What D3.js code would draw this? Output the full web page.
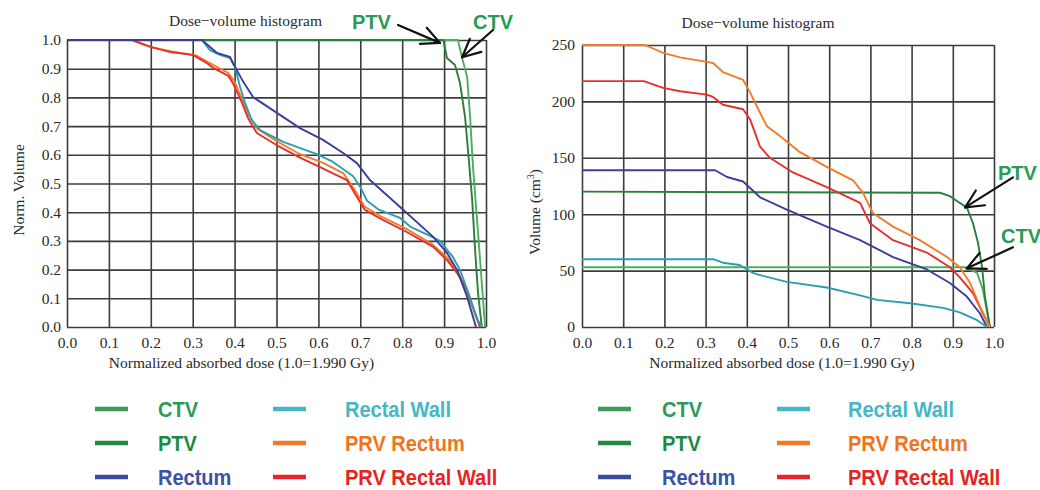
<!DOCTYPE html>
<html>
<head>
<meta charset="utf-8">
<script src="https://cdn.jsdelivr.net/npm/d3@7"></script>
<style>
  body { margin: 0; background: #fff; }
  svg { display: block; }
  .tick text { font-family: "Liberation Serif", "Times New Roman", serif; font-size: 15.5px; fill: #2a2a2a; }
  .serif { font-family: "Liberation Serif", "Times New Roman", serif; fill: #2a2a2a; }
  .lg { font-family: "Liberation Sans", Arial, sans-serif; font-weight: bold; }
</style>
</head>
<body>
<svg id="chart" width="1040" height="490"></svg>
<script>
// ---------- data ----------
const xTickValues = [0, 0.1, 0.2, 0.3, 0.4, 0.5, 0.6, 0.7, 0.8, 0.9, 1.0];
const xTickLabels = ["0.0","0.1","0.2","0.3","0.4","0.5","0.6","0.7","0.8","0.9","1.0"];
const leftYTickValues = [0, 0.1, 0.2, 0.3, 0.4, 0.5, 0.6, 0.7, 0.8, 0.9, 1.0];
const leftYTickLabels = ["0.0","0.1","0.2","0.3","0.4","0.5","0.6","0.7","0.8","0.9","1.0"];
const rightYTickValues = [0, 50, 100, 150, 200, 250];

const seriesNames = ["CTV", "PTV", "Rectum", "Rectal Wall", "PRV Rectum", "PRV Rectal Wall"];
const lineColors = ["#4caf5c", "#2a7f3c", "#3b3f98", "#2a9fb4", "#f07c2a", "#e6302c"];
const legendLineColors = ["#3a9a5a", "#1f8a40", "#3c4aa0", "#45b7c6", "#f07a2a", "#e8252a"];
const legendTextColors = ["#2e9a5a", "#1c8a3e", "#3a52a6", "#45b7c6", "#f07420", "#e52424"];

// Left panel: normalized volume  [dose, volume fraction]
const leftCTV = [[0,1],[0.933,1],[0.943,0.937],[0.955,0.871],[0.962,0.732],[0.969,0.557],[0.981,0.328],[0.99,0.153],[0.998,0]];
const leftPTV = [[0,1],[0.898,1],[0.907,0.937],[0.926,0.913],[0.938,0.85],[0.95,0.732],[0.957,0.617],[0.967,0.443],[0.974,0.268],[0.981,0.118],[0.99,0]];
const leftRectum = [[0,1],[0.322,1],[0.358,0.955],[0.389,0.941],[0.396,0.92],[0.418,0.861],[0.444,0.801],[0.501,0.746],[0.556,0.693],[0.611,0.652],[0.659,0.606],[0.692,0.571],[0.723,0.512],[0.795,0.418],[0.874,0.314],[0.907,0.258],[0.931,0.199],[0.955,0.105],[0.976,0]];
const leftRectalWall = [[0,1],[0.322,1],[0.341,0.965],[0.365,0.948],[0.389,0.937],[0.401,0.906],[0.413,0.836],[0.425,0.78],[0.441,0.721],[0.461,0.686],[0.516,0.645],[0.596,0.602],[0.635,0.575],[0.683,0.525],[0.7,0.488],[0.716,0.44],[0.745,0.408],[0.795,0.38],[0.819,0.35],[0.87,0.315],[0.89,0.3],[0.921,0.244],[0.938,0.199],[0.96,0.11],[0.978,0.03],[0.99,0]];
const leftPRVRectum = [[0,1],[0.155,1],[0.2,0.975],[0.25,0.96],[0.31,0.945],[0.34,0.92],[0.385,0.885],[0.4,0.855],[0.42,0.785],[0.435,0.735],[0.455,0.69],[0.5,0.648],[0.556,0.602],[0.61,0.573],[0.66,0.535],[0.69,0.47],[0.71,0.42],[0.75,0.385],[0.81,0.342],[0.87,0.29],[0.905,0.245],[0.93,0.2],[0.95,0.14],[0.97,0.06],[0.985,0]];
const leftPRVRectalWall = [[0,1],[0.155,1],[0.198,0.977],[0.246,0.958],[0.3,0.948],[0.33,0.923],[0.35,0.902],[0.385,0.875],[0.396,0.85],[0.418,0.78],[0.432,0.728],[0.453,0.676],[0.5,0.634],[0.556,0.59],[0.604,0.557],[0.668,0.512],[0.692,0.453],[0.711,0.408],[0.754,0.373],[0.811,0.331],[0.874,0.279],[0.907,0.233],[0.931,0.188],[0.955,0.129],[0.974,0.049],[0.986,0]];

// Right panel: absolute volume (cm³)  [dose, volume]
const rightCTV = [[0,53],[0.93,53],[0.959,48],[0.973,33],[0.99,0]];
const rightPTV = [[0,120],[0.869,119],[0.893,116],[0.917,110],[0.934,106],[0.949,92],[0.961,75],[0.971,53],[0.978,27],[0.99,0]];
const rightRectum = [[0,139],[0.323,139],[0.352,133],[0.391,129],[0.432,115],[0.497,104],[0.594,89],[0.675,77],[0.755,62],[0.837,51],[0.893,39],[0.934,27],[0.966,12],[0.983,0]];
const rightRectalWall = [[0,60],[0.32,60],[0.342,57],[0.383,55],[0.415,48],[0.432,46],[0.497,40],[0.594,35],[0.675,28],[0.716,24],[0.796,21],[0.876,17],[0.917,13],[0.959,6],[0.983,0]];
const rightPRVRectum = [[0,250],[0.153,250],[0.197,243],[0.238,239],[0.303,235],[0.318,234],[0.342,226],[0.391,219],[0.408,208],[0.425,195],[0.449,178],[0.481,169],[0.529,155],[0.594,142],[0.658,130],[0.682,119],[0.706,101],[0.755,89],[0.82,77],[0.886,62],[0.917,53],[0.942,39],[0.966,18],[0.99,0]];
const rightPRVRectalWall = [[0,218],[0.15,218],[0.197,212],[0.238,209],[0.303,206],[0.318,204],[0.342,197],[0.391,193],[0.408,184],[0.432,160],[0.456,150],[0.512,137],[0.594,124],[0.675,110],[0.699,92],[0.755,77],[0.837,66],[0.893,53],[0.917,44],[0.949,30],[0.973,12],[0.99,0]];

// ---------- drawing ----------
const svg = d3.select("#chart");
svg.append("rect").attr("width", 1040).attr("height", 490).attr("fill", "#fff");

function panel(cfg) {
  const x = d3.scaleLinear().domain([0, 1]).range([cfg.x0, cfg.x1]);
  const y = d3.scaleLinear().domain(cfg.yDomain).range([cfg.yBottom, cfg.yTop]);
  const g = svg.append("g");

  const xa = g.append("g").attr("transform", `translate(0,${cfg.yBottom})`)
    .call(d3.axisBottom(x).tickValues(xTickValues).tickFormat((d, i) => xTickLabels[i])
      .tickSizeInner(-(cfg.yBottom - cfg.yTop)).tickSizeOuter(0).tickPadding(10));
  xa.select(".domain").remove();
  xa.selectAll(".tick line").attr("stroke", "#3c3c3c").attr("stroke-width", 1.6);

  const ya = g.append("g").attr("transform", `translate(${cfg.x0},0)`)
    .call(d3.axisLeft(y).tickValues(cfg.yTicks).tickFormat(cfg.yFormat)
      .tickSizeInner(-(cfg.x1 - cfg.x0)).tickSizeOuter(0).tickPadding(cfg.yPad));
  ya.select(".domain").remove();
  ya.selectAll(".tick line").attr("stroke", "#3c3c3c").attr("stroke-width", 1.6);

  const line = d3.line().x(d => x(d[0])).y(d => y(d[1]));
  cfg.order.forEach(i => {
    g.append("path").datum(cfg.series[i]).attr("d", line)
      .attr("fill", "none").attr("stroke", lineColors[i]).attr("stroke-width", 1.9)
      .attr("stroke-linejoin", "round");
  });

  g.append("text").attr("class", "serif").attr("x", (cfg.x0 + cfg.x1) / 2 + cfg.titleDx).attr("y", cfg.titleY)
    .attr("text-anchor", "middle").attr("font-size", 15.5).text("Dose\u2212volume histogram");
  g.append("text").attr("class", "serif").attr("x", (cfg.x0 + cfg.x1) / 2 + cfg.xLabelDx).attr("y", 368)
    .attr("text-anchor", "middle").attr("font-size", 15.5).text("Normalized absorbed dose (1.0=1.990 Gy)");
  const yl = g.append("text").attr("class", "serif")
    .attr("transform", `translate(${cfg.yLabelX},${cfg.yLabelY}) rotate(-90)`)
    .attr("text-anchor", "middle").attr("font-size", 15.5);
  cfg.yLabel(yl);

  return { x, y, g };
}

const left = panel({
  x0: 67, x1: 486, yTop: 40, yBottom: 327, yDomain: [0, 1],
  yTicks: leftYTickValues, yFormat: (d, i) => leftYTickLabels[i], yPad: 6,
  series: [leftCTV, leftPTV, leftRectum, leftRectalWall, leftPRVRectum, leftPRVRectalWall],
  order: [0, 1, 4, 5, 3, 2],
  titleDx: -31, titleY: 26, xLabelDx: -35,
  yLabelX: 24, yLabelY: 190,
  yLabel: t => t.text("Norm. Volume")
});

const right = panel({
  x0: 582, x1: 994, yTop: 45, yBottom: 327, yDomain: [0, 250],
  yTicks: rightYTickValues, yFormat: d => String(d), yPad: 7,
  series: [rightCTV, rightPTV, rightRectum, rightRectalWall, rightPRVRectum, rightPRVRectalWall],
  order: [0, 1, 2, 3, 5, 4],
  titleDx: -30, titleY: 28, xLabelDx: -6,
  yLabelX: 540, yLabelY: 212,
  yLabel: t => { t.append("tspan").text("Volume (cm"); t.append("tspan").attr("dy", -6).attr("font-size", 10).text("3"); t.append("tspan").attr("dy", 6).text(")"); }
});

// ---------- annotations (arrows) ----------
function arrow(tipX, tipY, tailX, tailY) {
  const ang = Math.atan2(tailY - tipY, tailX - tipX);
  const hl = 20, spread = 0.45;
  const g = svg.append("g").attr("stroke", "#111").attr("stroke-width", 2.2).attr("fill", "none").attr("stroke-linecap", "round");
  g.append("line").attr("x1", tailX).attr("y1", tailY).attr("x2", tipX).attr("y2", tipY);
  [ang - spread, ang + spread].forEach(a => {
    g.append("line").attr("x1", tipX).attr("y1", tipY)
      .attr("x2", tipX + hl * Math.cos(a)).attr("y2", tipY + hl * Math.sin(a));
  });
}
function annot(txt, x, y) {
  svg.append("text").attr("class", "lg").attr("x", x).attr("y", y).attr("font-size", 20)
    .attr("fill", "#2a9a55").text(txt);
}
// left panel
arrow(left.x(0.89), left.y(0.99), left.x(0.79), left.y(1.0) - 15);
annot("PTV", 352, 29);
arrow(left.x(0.943), left.y(0.94), left.x(1.0) + 7, left.y(1.0) - 10);
annot("CTV", 473, 29);
// right panel
arrow(right.x(0.93), right.y(106), right.x(1.0) + 19, right.y(106) - 30);
annot("PTV", 998, 180);
arrow(right.x(0.934), right.y(52), right.x(1.0) + 19, right.y(52) - 21);
annot("CTV", 1001, 243);

// ---------- legends ----------
function legend(x0, colGap, textOffsets) {
  const rows = [409, 443, 477];
  const order = [[0, 3], [1, 4], [2, 5]];
  order.forEach((pair, r) => {
    pair.forEach((si, c) => {
      const lx = x0 + c * colGap;
      svg.append("line").attr("x1", lx).attr("x2", lx + 33).attr("y1", rows[r]).attr("y2", rows[r])
        .attr("stroke", legendLineColors[si]).attr("stroke-width", 4.5);
      svg.append("text").attr("class", "lg")
        .attr("transform", `translate(${lx + textOffsets[c]},${rows[r] + 8}) scale(0.91,1)`)
        .attr("font-size", 22).attr("fill", legendTextColors[si]).text(seriesNames[si]);
    });
  });
}
legend(95, 178, [63, 72]);
legend(598, 179, [64, 71]);
</script>
</body>
</html>
